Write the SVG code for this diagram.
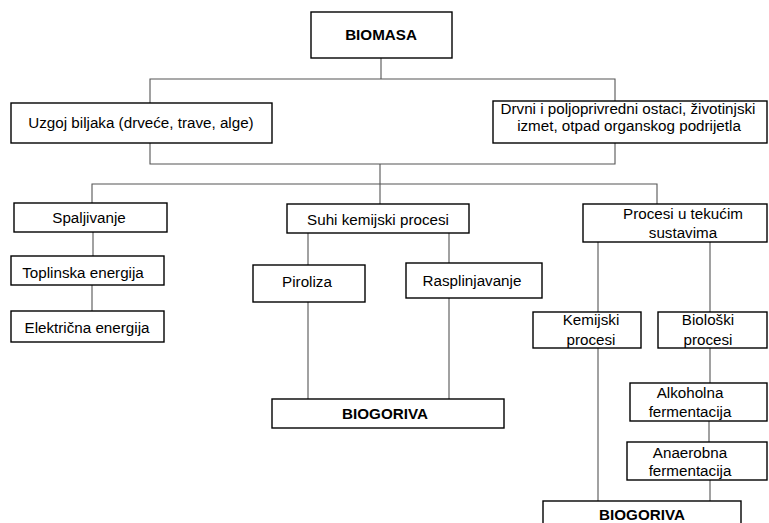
<svg xmlns="http://www.w3.org/2000/svg" width="769" height="523" viewBox="0 0 769 523">
<style>
.box{fill:#fff;stroke:#000;stroke-width:1.4}
.t{font-family:"Liberation Sans",Arial,sans-serif;font-size:15.2px;fill:#000;text-anchor:middle}
.b{font-weight:bold}
.c{fill:none;stroke:#555;stroke-width:1.1}
</style>
<rect width="769" height="523" fill="#fff"/>
<g id="connectors">
<path class="c" d="M381 58V79M150 103V79H615V101"/>
<path class="c" d="M150 143V164H615V143M380 164V184"/>
<path class="c" d="M92 203V184H657V204M380 184V204"/>
<path class="c" d="M93 232V256M92 285V311"/>
<path class="c" d="M308 233V265M449 233V263"/>
<path class="c" d="M308 302V399M449 298V399"/>
<path class="c" d="M598 242V312M710 242V312"/>
<path class="c" d="M598 348V501M710 348V383M709 421V442M710 480V501"/>
</g>
<g id="biomasa"><rect class="box" x="311" y="12" width="141" height="46"/><text class="t b" x="381" y="40">BIOMASA</text></g>
<g id="uzgoj"><rect class="box" x="11" y="103" width="261" height="40"/><text class="t" x="141" y="128">Uzgoj biljaka (drveće, trave, alge)</text></g>
<g id="drvni"><rect class="box" x="493" y="101" width="274" height="42"/><text class="t" x="628" y="114">Drvni i poljoprivredni ostaci, životinjski</text><text class="t" x="629" y="131">izmet, otpad organskog podrijetla</text></g>
<g id="spaljivanje"><rect class="box" x="14" y="203" width="153" height="29"/><text class="t" x="89" y="223">Spaljivanje</text></g>
<g id="toplinska"><rect class="box" x="11" y="256" width="153" height="29"/><text class="t" x="83" y="278">Toplinska energija</text></g>
<g id="elektricna"><rect class="box" x="11" y="311" width="153" height="31"/><text class="t" x="87" y="333">Električna energija</text></g>
<g id="suhi"><rect class="box" x="287" y="204" width="182" height="29"/><text class="t" x="378" y="225">Suhi kemijski procesi</text></g>
<g id="piroliza"><rect class="box" x="253" y="265" width="112" height="37"/><text class="t" x="307" y="287">Piroliza</text></g>
<g id="rasplinjavanje"><rect class="box" x="406" y="263" width="136" height="35"/><text class="t" x="472" y="286">Rasplinjavanje</text></g>
<g id="biogoriva1"><rect class="box" x="272" y="399" width="232" height="29"/><text class="t b" x="385" y="419">BIOGORIVA</text></g>
<g id="procesi"><rect class="box" x="583" y="204" width="184" height="38"/><text class="t" x="683" y="219">Procesi u tekućim</text><text class="t" x="683" y="238">sustavima</text></g>
<g id="kemijski"><rect class="box" x="533" y="312" width="108" height="36"/><text class="t" x="591" y="325">Kemijski</text><text class="t" x="591" y="345">procesi</text></g>
<g id="bioloski"><rect class="box" x="658" y="312" width="109" height="36"/><text class="t" x="708" y="325">Biološki</text><text class="t" x="708" y="345">procesi</text></g>
<g id="alkoholna"><rect class="box" x="630" y="383" width="137" height="38"/><text class="t" x="690" y="398">Alkoholna</text><text class="t" x="690" y="417">fermentacija</text></g>
<g id="anaerobna"><rect class="box" x="627" y="442" width="140" height="38"/><text class="t" x="690" y="458">Anaerobna</text><text class="t" x="690" y="476">fermentacija</text></g>
<g id="biogoriva2"><rect class="box" x="543" y="501" width="198" height="30"/><text class="t b" x="642" y="520">BIOGORIVA</text></g>
</svg>
